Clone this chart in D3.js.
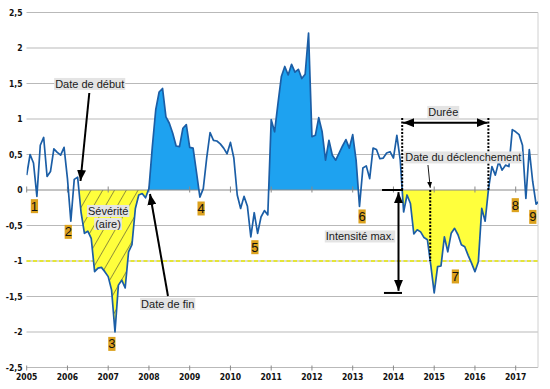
<!DOCTYPE html>
<html><head><meta charset="utf-8">
<script src="https://cdn.jsdelivr.net/npm/d3@7"></script>
<style>body{margin:0;background:#fff}svg{display:block}</style>
</head><body><svg id="c" width="550" height="389"></svg>
<script>
// ---- data ----
const startYear = 2005;           // monthly series, first value = Jan 2005
const values = [
  0.21, 0.50, 0.38,-0.09, 0.63, 0.74, 0.19, 0.26, 0.58, 0.53, 0.49, 0.60,
  0.16,-0.44, 0.15, 0.18,-0.31,-0.61,-0.58,-0.68,-1.15,-1.10,-1.09,-1.15,
 -1.22,-1.41,-2.00,-1.34,-1.27,-1.38,-0.87,-0.77,-0.26,-0.07,-0.05,-0.11,
  0.02, 0.61, 1.13, 1.38, 1.43, 1.03, 0.94, 0.80, 0.62, 0.61, 0.87, 0.92,
  0.60, 0.59, 0.25,-0.10, 0.02, 0.45, 0.81, 0.70, 0.69, 0.65, 0.59, 0.51,
  0.67, 0.45,-0.07,-0.26,-0.09,-0.23,-0.66,-0.32,-0.61,-0.38,-0.29,-0.35,
  0.99, 0.82, 1.22, 1.60, 1.74, 1.62, 1.77, 1.66, 1.70, 1.57, 1.63, 2.21,
  0.75, 0.77, 1.02, 0.82, 0.42, 0.70, 0.49, 0.42, 0.52, 0.62, 0.71, 0.59,
  0.78, 0.42,-0.23, 0.31, 0.34, 0.16, 0.59, 0.57, 0.44, 0.45, 0.52, 0.54,
  0.45, 0.77, 0.42,-0.31,-0.07,-0.19,-0.62,-0.56,-0.59,-0.67,-0.70,-1.06,
 -1.45,-1.08,-1.07,-0.66,-0.87,-0.61,-0.54,-0.63,-0.77,-0.80,-0.92,-1.03,
 -1.15,-1.01,-0.26,-0.44, 0.02, 0.33, 0.21, 0.40, 0.28, 0.35, 0.33, 0.85,
  0.82, 0.78, 0.63,-0.12, 0.57, 0.12,-0.20,-0.15
];
const yTicks = [2.5, 2, 1.5, 1, 0.5, 0, -0.5, -1, -1.5, -2, -2.5];
const xTicks = [2005, 2006, 2007, 2008, 2009, 2010, 2011, 2012, 2013, 2014, 2015, 2016, 2017];
const threshold = -1;
// events given as [index before crossing, index after crossing]
const droughtEvents = [[15, 36], [110, 136]];
const wetEvents = [[35, 51], [71, 98]];
const hatchedEvent = 0;   // drought index with hatching
const detailEvent = 1;    // drought index with durée / intensité annotations
const eventLabels = [
  ["1", 2005.19, -0.225], ["2", 2006.02, -0.587], ["3", 2007.09, -2.165],
  ["4", 2009.28, -0.258], ["5", 2010.60, -0.803], ["6", 2013.23, -0.370],
  ["7", 2015.52, -1.215], ["8", 2016.99, -0.211], ["9", 2017.42, -0.376]
];
const textNotes = [
  ["Date de début", 2006.546, 1.493],
  ["Sévérité", 2007.00, -0.296],
  ["(aire)", 2006.995, -0.479],
  ["Date de fin", 2008.46, -1.606],
  ["Intensité max.", 2013.179, -0.655],
  ["Durée", 2015.223, 1.099],
  ["Date du déclenchement", 2015.714, 0.458]
];

// ---- scales ----
const svg = d3.select("#c");
const date = i => startYear + i / 12;
const endYear = date(values.length - 1);
const x = d3.scaleLinear().domain([startYear, endYear]).range([26.7, 26.7 + 40.75 * (endYear - startYear)]);
const y = d3.scaleLinear().domain([-2.5, 2.5]).range([367.5, 12.5]);
const left = 26.5, right = 538;

const defs = svg.append("defs");
defs.append("clipPath").attr("id", "plot").append("rect")
  .attr("x", left).attr("y", 0).attr("width", right - left).attr("height", 389);
const hatch = defs.append("pattern").attr("id", "hatch").attr("patternUnits", "userSpaceOnUse")
  .attr("width", 10.2).attr("height", 10.2).attr("patternTransform", "rotate(30)");
hatch.append("line").attr("x1", 0).attr("y1", -1).attr("x2", 0).attr("y2", 12)
  .attr("stroke", "#333").attr("stroke-width", 1);
function marker(id, w, h) {
  defs.append("marker").attr("id", id).attr("markerUnits", "userSpaceOnUse")
    .attr("markerWidth", w).attr("markerHeight", h).attr("refX", w).attr("refY", h / 2)
    .attr("orient", "auto-start-reverse")
    .append("path").attr("d", `M0,0L${w},${h / 2}L0,${h}z`).attr("fill", "#000");
}
marker("arr", 11, 9);
marker("arrS", 6, 5);

// ---- grid ----
svg.append("g").selectAll("line").data(yTicks.filter(v => v !== 0)).join("line")
  .attr("x1", left).attr("x2", right).attr("y1", d => y(d)).attr("y2", d => y(d))
  .attr("stroke", "#b9b9b9").attr("stroke-width", 1);
svg.append("line").attr("x1", right).attr("x2", right).attr("y1", y(2.5)).attr("y2", y(-2.5))
  .attr("stroke", "#d0d0d0");
// threshold dashed
svg.append("line").attr("x1", left).attr("x2", right).attr("y1", y(threshold)).attr("y2", y(threshold))
  .attr("stroke", "#e8e800").attr("stroke-width", 1.6).attr("stroke-dasharray", "4,2.5");

// ---- fills ----
function crossT(i, level) {
  const v0 = values[i], v1 = values[i + 1];
  return date(i) + (level - v0) / (v1 - v0) * (date(i + 1) - date(i));
}
function eventPts(ev, clamp) {
  const [a, b] = ev, pts = [{ t: crossT(a, 0), v: 0 }];
  for (let i = a + 1; i < b; i++) pts.push({ t: date(i), v: clamp(values[i]) });
  pts.push({ t: crossT(b - 1, 0), v: 0 });
  return pts;
}
const area = d3.area().x(d => x(d.t)).y0(y(0)).y1(d => y(d.v));
const fills = svg.append("g").attr("clip-path", "url(#plot)");
wetEvents.forEach(ev => fills.append("path").attr("d", area(eventPts(ev, v => Math.max(v, 0)))).attr("fill", "#1ea2f0"));
droughtEvents.forEach((ev, k) => {
  const d = area(eventPts(ev, v => Math.min(v, 0)));
  fills.append("path").attr("d", d).attr("fill", "#ffff3c");
  if (k === hatchedEvent) fills.append("path").attr("d", d).attr("fill", "url(#hatch)");
});

// zero axis line + ticks
svg.append("line").attr("x1", left).attr("x2", right).attr("y1", y(0)).attr("y2", y(0))
  .attr("stroke", "#8a8a8a").attr("stroke-width", 1);
svg.append("g").selectAll("line").data(xTicks).join("line")
  .attr("x1", d => x(d)).attr("x2", d => x(d)).attr("y1", y(0) - 3.5).attr("y2", y(0) + 2.5)
  .attr("stroke", "#8a8a8a");
svg.append("g").selectAll("line").data(xTicks).join("line")
  .attr("x1", d => x(d)).attr("x2", d => x(d)).attr("y1", y(-2.5) - 2).attr("y2", y(-2.5) + 3)
  .attr("stroke", "#8a8a8a");

// ---- line ----
const line = d3.line().x((d, i) => x(date(i))).y(d => y(d));
svg.append("path").attr("clip-path", "url(#plot)").attr("d", line(values))
  .attr("fill", "none").attr("stroke", "#1b5ea6").attr("stroke-width", 1.7).attr("stroke-linejoin", "round");

// ---- axis labels ----
const axFont = "'Liberation Sans Narrow','DejaVu Sans Condensed',sans-serif";
svg.append("g").selectAll("text").data(yTicks).join("text")
  .attr("x", 22.5).attr("y", d => y(d)).attr("dy", "0.36em").attr("text-anchor", "end")
  .attr("font-family", axFont).attr("font-weight", "bold").attr("font-size", 8.5).attr("fill", "#111")
  .text(d => String(d).replace(".", ","));
svg.append("g").selectAll("text").data(xTicks).join("text")
  .attr("x", d => x(d)).attr("y", 380).attr("text-anchor", "middle")
  .attr("font-family", axFont).attr("font-weight", "bold").attr("font-size", 8.5).attr("fill", "#111")
  .text(d => d);

// ---- annotations ----
const noteFont = "'Liberation Sans',Arial,sans-serif";
const ann = svg.append("g");
function note(txt, t, v) {
  const g = ann.append("g");
  const tx = g.append("text").attr("x", x(t)).attr("y", y(v)).attr("dy", "0.36em")
    .attr("text-anchor", "middle").attr("font-family", noteFont).attr("font-size", 11).attr("fill", "#1a1a1a").text(txt);
  const bb = tx.node().getBBox();
  g.insert("rect", "text").attr("x", bb.x - 1).attr("y", bb.y).attr("width", bb.width + 2).attr("height", bb.height)
    .attr("fill", "#e4e4e4");
}
function arrow(t1, v1, t2, v2, w, mk, both) {
  const l = ann.append("line").attr("x1", x(t1)).attr("y1", y(v1)).attr("x2", x(t2)).attr("y2", y(v2))
    .attr("stroke", "#000").attr("stroke-width", w).attr("marker-end", `url(#${mk})`);
  if (both) l.attr("marker-start", `url(#${mk})`);
}
// début / fin arrows
arrow(2006.536, 1.366, 2006.32, 0.127, 2, "arr");
arrow(2008.467, -1.493, 2008.026, -0.056, 2, "arr");

// detail drought
const dev = droughtEvents[detailEvent];
const tStart = crossT(dev[0], 0), tEnd = crossT(dev[1] - 1, 0);
let iTrig = dev[0] + 1; while (values[iTrig + 1] > threshold) iTrig++;
const tTrig = crossT(iTrig, threshold);
const vMin = d3.min(values.slice(dev[0] + 1, dev[1]));
const dotted = (t, v1, v2) => ann.append("line").attr("x1", x(t)).attr("x2", x(t)).attr("y1", y(v1)).attr("y2", y(v2))
  .attr("stroke", "#000").attr("stroke-width", 2).attr("stroke-dasharray", "2,1.5");
dotted(tStart, 1.014, 0);
dotted(tEnd, 1.014, 0);
dotted(tTrig, 0, threshold);
arrow(tStart + 0.02, 0.948, tEnd - 0.02, 0.948, 2, "arr", true);
// intensité max
const tInt = 2014.124;
arrow(tInt, -0.03, tInt, vMin + 0.03, 2, "arr", true);
ann.append("line").attr("x1", x(2013.72)).attr("x2", x(2014.235)).attr("y1", y(0)).attr("y2", y(0)).attr("stroke", "#000").attr("stroke-width", 2);
ann.append("line").attr("x1", x(2013.767)).attr("x2", x(2014.21)).attr("y1", y(vMin)).attr("y2", y(vMin)).attr("stroke", "#000").attr("stroke-width", 2);
// déclenchement thin arrow
arrow(2014.847, 0.352, tTrig, 0.03, 0.9, "arrS");

textNotes.forEach(d => note(d[0], d[1], d[2]));

// number labels
const lab = svg.append("g");
eventLabels.forEach(([n, t, v]) => {
  const g = lab.append("g");
  const tx = g.append("text").attr("x", x(t)).attr("y", y(v)).attr("dy", "0.36em").attr("text-anchor", "middle")
    .attr("font-family", noteFont).attr("font-size", 13).attr("fill", "#111").text(n);
  const bb = tx.node().getBBox();
  g.insert("rect", "text").attr("x", bb.x).attr("y", bb.y + 0.5).attr("width", bb.width).attr("height", bb.height - 1)
    .attr("fill", "#dca21e");
});
</script></body></html>
